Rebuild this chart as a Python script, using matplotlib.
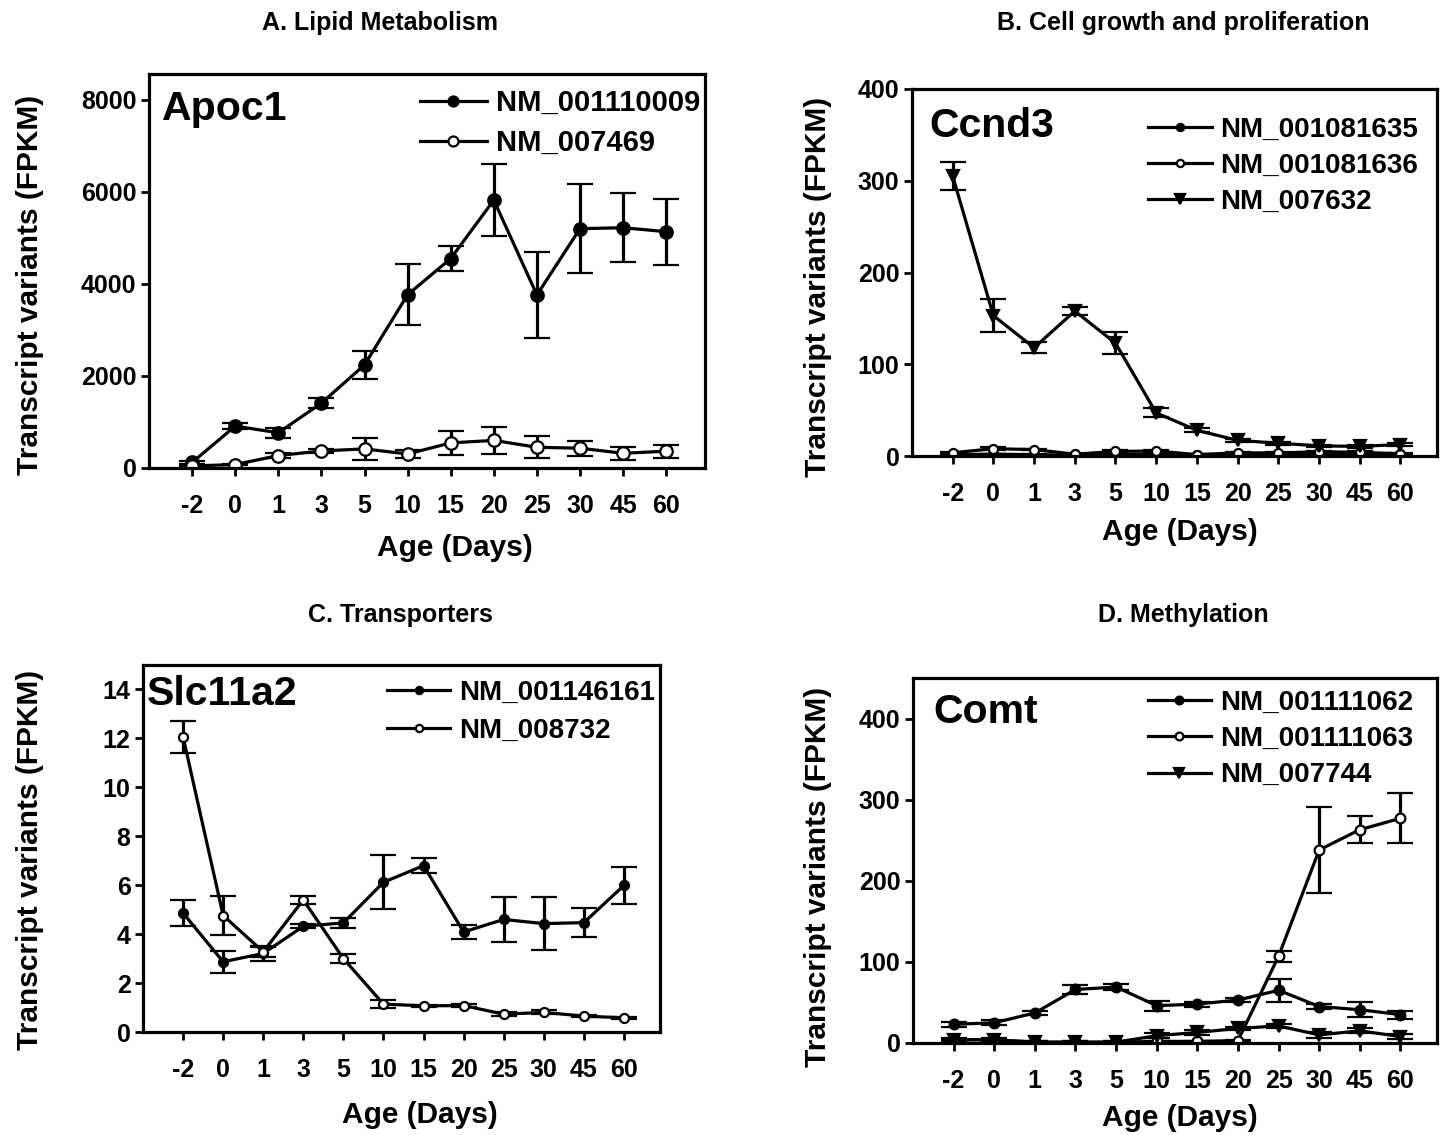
import matplotlib
matplotlib.use('Agg')
import matplotlib.pyplot as plt

plt.rcParams['font.family'] = ['Liberation Sans', 'DejaVu Sans']
plt.rcParams['font.weight'] = 'bold'

ages = ['-2', '0', '1', '3', '5', '10', '15', '20', '25', '30', '45', '60']

# A. Apoc1
apoc1_001110009 = [120, 910, 765, 1410, 2240, 3765, 4550, 5820, 3760, 5200, 5220, 5135]
apoc1_001110009_err = [40, 60, 110, 100, 300, 660, 270, 775, 940, 960, 750, 720]
apoc1_007469 = [45, 75, 270, 370, 415, 305, 545, 600, 450, 430, 320, 365]
apoc1_007469_err = [20, 20, 60, 50, 240, 80, 260, 290, 240, 160, 140, 140]

# B. Ccnd3
ccnd3_001081635 = [1.5, 2, 1.5, 1, 1.5, 2, 1, 1.5, 1.5, 1.5, 1.5, 1.5]
ccnd3_001081635_err = [0.5] * 12
ccnd3_001081636 = [3.5, 8, 7, 2, 5, 5.5, 1.5, 3.5, 3.3, 4.7, 4, 2.5]
ccnd3_001081636_err = [1, 1.5, 1, 0.5, 1, 1, 0.5, 1, 1, 1, 1, 0.5]
ccnd3_007632 = [305, 153, 118, 158, 123, 47, 28, 17, 14, 11, 10.5, 12.5]
ccnd3_007632_err = [15, 18, 6, 4, 12, 5, 2, 2, 1.5, 1.5, 1.5, 1.5]

# C. Slc11a2
slc_001146161 = [4.86, 2.87, 3.21, 4.32, 4.46, 6.12, 6.8, 4.09, 4.6, 4.43, 4.47, 5.99]
slc_001146161_err = [0.53, 0.45, 0.3, 0.08, 0.2, 1.1, 0.3, 0.28, 0.93, 1.08, 0.6, 0.76]
slc_008732 = [12.06, 4.76, 3.28, 5.4, 3.0, 1.14, 1.07, 1.08, 0.73, 0.8, 0.65, 0.58]
slc_008732_err = [0.65, 0.8, 0.2, 0.15, 0.2, 0.15, 0.05, 0.05, 0.08, 0.08, 0.05, 0.05]

# D. Comt
comt_001111062 = [23, 25, 37, 66, 69, 46, 48, 53, 65, 45, 41, 35]
comt_001111062_err = [3, 3, 3, 5, 4, 6, 3, 2, 14, 3, 9, 5]
comt_001111063 = [4, 4, 1, 1, 1, 2, 2, 3, 107, 238, 263, 277]
comt_001111063_err = [1, 1, 1, 1, 1, 1, 1, 1, 7, 53, 17, 31]
comt_007744 = [4, 4, 1, 1, 1, 9, 13, 18, 21, 10, 15, 8]
comt_007744_err = [2, 2, 1, 1, 1, 3, 3, 2, 2, 4, 3, 3]

STYLES = {'filled': dict(marker='o', mfc='black'),
          'open': dict(marker='o', mfc='white'),
          'tri': dict(marker='v', mfc='black')}


def panel(ax, series, ylim, yticks, gene, gene_pos, leg_anchor, leg_size, msize, lspace):
    x = list(range(len(ages)))
    for vals, errs, label, kind in series:
        st = STYLES[kind]
        ms = msize + (2 if kind == 'tri' else 0)
        ax.errorbar(x, vals, yerr=errs, color='black', lw=2.3, elinewidth=2.3,
                    capsize=9.5, capthick=2.3, marker=st['marker'], ms=ms,
                    mfc=st['mfc'], mec='black', mew=1.6, label=label)
    ax.set_xlim(-1, 11.9)
    ax.set_ylim(*ylim)
    ax.set_xticks(x)
    ax.set_xticklabels(ages)
    ax.set_yticks(yticks)
    ax.tick_params(direction='out', length=6, width=2, labelsize=18)
    ax.tick_params(axis='x', pad=13)
    ax.tick_params(axis='y', pad=3)
    for sp in ax.spines.values():
        sp.set_linewidth(2.3)
    ax.text(gene_pos[0], gene_pos[1], gene, transform=ax.transAxes,
            fontsize=29.5, fontweight='bold', ha='left', va='center')
    handles, labels = ax.get_legend_handles_labels()
    handles = [h[0] for h in handles]
    ax.legend(handles, labels, loc='upper right', bbox_to_anchor=leg_anchor,
              frameon=False, fontsize=leg_size, handlelength=2.3,
              handletextpad=0.3, labelspacing=lspace, borderpad=0,
              borderaxespad=0, markerscale=0.8)


fig = plt.figure(figsize=(14.48, 11.35), dpi=100)
W, H = 1448.0, 1135.0


def add_axes(l, r, t, b):
    return fig.add_axes([l / W, 1 - b / H, (r - l) / W, (b - t) / H])


axA = add_axes(149, 705, 74, 468)
axB = add_axes(912, 1437, 89, 456)
axC = add_axes(143, 660, 665, 1032)
axD = add_axes(913, 1437, 678, 1043)

panel(axA, [(apoc1_001110009, apoc1_001110009_err, 'NM_001110009', 'filled'),
            (apoc1_007469, apoc1_007469_err, 'NM_007469', 'open')],
      (0, 8560), range(0, 8001, 2000), 'Apoc1', (0.023, 0.912),
      (0.991, 0.962), 21, 9, 0.42)
panel(axB, [(ccnd3_001081635, ccnd3_001081635_err, 'NM_001081635', 'filled'),
            (ccnd3_001081636, ccnd3_001081636_err, 'NM_001081636', 'open'),
            (ccnd3_007632, ccnd3_007632_err, 'NM_007632', 'tri')],
      (0, 400), range(0, 401, 100), 'Ccnd3', (0.034, 0.9),
      (0.964, 0.925), 20, 6.5, 0.37)
panel(axC, [(slc_001146161, slc_001146161_err, 'NM_001146161', 'filled'),
            (slc_008732, slc_008732_err, 'NM_008732', 'open')],
      (0, 15), range(0, 15, 2), 'Slc11a2', (0.008, 0.922),
      (0.99, 0.96), 20, 6.5, 0.43)
panel(axD, [(comt_001111062, comt_001111062_err, 'NM_001111062', 'filled'),
            (comt_001111063, comt_001111063_err, 'NM_001111063', 'open'),
            (comt_007744, comt_007744_err, 'NM_007744', 'tri')],
      (0, 450), range(0, 401, 100), 'Comt', (0.038, 0.908),
      (0.954, 0.968), 20, 7, 0.37)

# panel titles
for tx, ty, title in [(380, 23, 'A. Lipid Metabolism'), (1183, 23, 'B. Cell growth and proliferation'),
                      (400, 615, 'C. Transporters'), (1183, 615, 'D. Methylation')]:
    fig.text(tx / W, 1 - ty / H, title, ha='center', va='center', fontsize=18, fontweight='bold')

# axis labels
for xl, yl, xx, yy in [(455, 548, 30, 285), (1180, 532, 818, 287),
                       (420, 1115, 30, 860), (1180, 1118, 818, 877)]:
    fig.text(xl / W, 1 - yl / H, 'Age (Days)', ha='center', va='center', fontsize=21.5, fontweight='bold')
    fig.text(xx / W, 1 - yy / H, 'Transcript variants (FPKM)', ha='center', va='center',
             rotation=90, fontsize=21.5, fontweight='bold')

fig.savefig('out.png', dpi=100)
